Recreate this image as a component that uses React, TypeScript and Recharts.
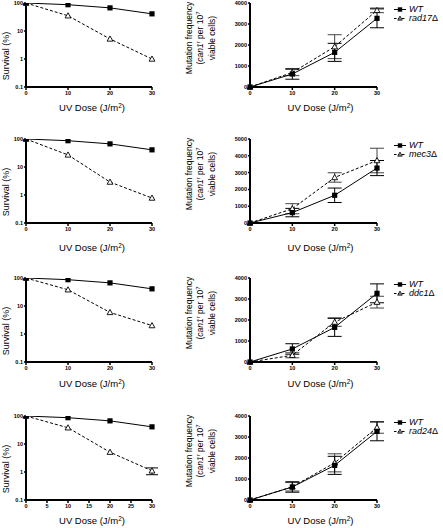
import React from "react";
import { LineChart, Line, XAxis, YAxis, ErrorBar } from "recharts";

// UV dose points (J/m2)
const doses = [0, 10, 20, 30];
const doseTicks = [0, 10, 20, 30];
const doseTicksFine = [0, 5, 10, 15, 20, 25, 30];
const survivalTicks = [0.1, 1, 10, 100];
const mutTicks4 = [0, 1000, 2000, 3000, 4000];
const mutTicks5 = [0, 1000, 2000, 3000, 4000, 5000];

// Survival (%)
const wtSurvival = [100, 87, 67, 41];
const rad17Survival = [100, 35, 5.2, 1.0];
const mec3Survival = [100, 27, 2.9, 0.78];
const ddc1Survival = [100, 38, 5.9, 2.0];
const rad24Survival = [100, 38, 5.1, 1.1];
const rad24SurvivalErr = [null, null, null, 0.3];

// Mutation frequency (can1r per 10^7 viable cells)
const wtMut = [0, 620, 1650, 3270];
const wtMutErr = [null, 250, 430, 450];
const rad17Mut = [0, 690, 1920, 3650];
const rad17MutErr = [null, 150, 570, 110];
const mec3Mut = [0, 850, 2710, 3720];
const mec3MutErr = [null, 300, 280, 730];
const ddc1Mut = [0, 320, 1900, 2850];
const ddc1MutErr = [null, 120, 200, 280];
const rad24Mut = [0, 630, 1770, 3450];
const rad24MutErr = [null, 200, 430, 270];

const FONT = '"Liberation Sans", Arial, Helvetica, sans-serif';
const MT = 6;
const PLOT_H = 84;
const XH = 34;
const CH = MT + PLOT_H + XH;

const rows = [
  { top: 3, name: "rad17", surv: rad17Survival, survErr: null as any, mut: rad17Mut, mutErr: rad17MutErr, mutTicks: mutTicks4, xTicks: doseTicks, gap: 21 },
  { top: 139, name: "mec3", surv: mec3Survival, survErr: null as any, mut: mec3Mut, mutErr: mec3MutErr, mutTicks: mutTicks5, xTicks: doseTicks, gap: 25 },
  { top: 278, name: "ddc1", surv: ddc1Survival, survErr: null as any, mut: ddc1Mut, mutErr: ddc1MutErr, mutTicks: mutTicks4, xTicks: doseTicks, gap: 22 },
  { top: 416, name: "rad24", surv: rad24Survival, survErr: rad24SurvivalErr, mut: rad24Mut, mutErr: rad24MutErr, mutTicks: mutTicks4, xTicks: doseTicksFine, gap: 21 },
];

const Square = (p: any) => {
  if (p.cx == null || p.cy == null) return <g key={p.index} />;
  return <rect key={p.index} x={p.cx - 2.6} y={p.cy - 2.6} width={5.2} height={5.2} fill="#000" />;
};
const Triangle = (p: any) => {
  if (p.cx == null || p.cy == null) return <g key={p.index} />;
  const { cx, cy } = p;
  return (
    <path key={p.index} d={`M${cx},${cy - 3} L${cx + 2.9},${cy + 2.2} L${cx - 2.9},${cy + 2.2} Z`}
      fill="#fff" stroke="#000" strokeWidth={0.9} />
  );
};

const XLabel = (props: any) => {
  const vb = props.viewBox;
  const cx = vb.x + vb.width / 2 + (props.labelShift || 0);
  const y = vb.y + (props.labelGap || 22) + 3.3;
  return (
    <text x={cx} y={y} textAnchor="middle" fontSize={9.5} fontFamily={FONT} fill="#000">
      UV Dose (J/m<tspan dy={-3.5} fontSize={6.5}>2</tspan><tspan dy={3.5}>)</tspan>
    </text>
  );
};

const SurvivalLabel = (props: any) => {
  const vb = props.viewBox;
  const cx = vb.x + 9.3;
  const cy = vb.y + 53;
  return (
    <text x={cx} y={cy} transform={`rotate(-90 ${cx} ${cy})`} textAnchor="middle"
      fontSize={9} fontFamily={FONT} fill="#000">Survival (%)</text>
  );
};

const MutLabel = (props: any) => {
  const vb = props.viewBox;
  const cy = vb.y + 35;
  const xs = [vb.x + 16.5, vb.x + 28, vb.x + 39.5];
  const common = { textAnchor: "middle" as const, fontSize: 8.5, fontFamily: FONT, fill: "#000" };
  return (
    <g>
      <text x={xs[0]} y={cy} transform={`rotate(-90 ${xs[0]} ${cy})`} {...common}>Mutation frequency</text>
      <text x={xs[1]} y={cy} transform={`rotate(-90 ${xs[1]} ${cy})`} {...common}>
        (<tspan fontStyle="italic">can1</tspan><tspan dy={-3.2} fontSize={6}>r</tspan>
        <tspan dy={3.2}> per 10</tspan><tspan dy={-3.2} fontSize={6}>7</tspan><tspan dy={3.2}> </tspan>
      </text>
      <text x={xs[2]} y={cy} transform={`rotate(-90 ${xs[2]} ${cy})`} {...common}>viable cells)</text>
    </g>
  );
};

const tickStyle = { fontSize: 5.5, fontWeight: "bold" as const, fill: "#000", fontFamily: FONT };
const axisLine = { stroke: "#000", strokeWidth: 2 };
const tickLine = { stroke: "#000", strokeWidth: 1.5 };

function SurvivalChart({ row }: { row: any }) {
  const data = doses.map((d, i) => ({
    dose: d, wt: wtSurvival[i], mt: row.surv[i], mtErr: row.survErr ? row.survErr[i] : null,
  }));
  return (
    <div style={{ position: "absolute", left: 0, top: row.top - MT }}>
      <LineChart width={170} height={CH} data={data} margin={{ top: MT, right: 18, bottom: 0, left: 0 }}>
        <XAxis dataKey="dose" type="number" domain={[0, 30]} ticks={row.xTicks} interval={0}
          axisLine={axisLine} tickLine={tickLine} tickSize={3} tickMargin={1} tick={tickStyle} height={XH}
          label={<XLabel labelShift={3} labelGap={row.gap} />} />
        <YAxis type="number" scale="log" domain={[0.1, 100]} ticks={survivalTicks} interval={0}
          allowDataOverflow width={26} axisLine={axisLine} tickLine={tickLine} tickSize={2} tickMargin={1}
          tick={tickStyle} label={<SurvivalLabel />} />
        <Line dataKey="mt" stroke="#000" strokeWidth={1} strokeDasharray="3 2" dot={Triangle}
          isAnimationActive={false}>
          {row.survErr && <ErrorBar dataKey="mtErr" width={6} stroke="#000" strokeWidth={1} direction="y" />}
        </Line>
        <Line dataKey="wt" stroke="#000" strokeWidth={1} dot={Square} isAnimationActive={false} />
      </LineChart>
    </div>
  );
}

function MutationChart({ row }: { row: any }) {
  const data = doses.map((d, i) => ({
    dose: d, wt: wtMut[i], wtErr: wtMutErr[i], mt: row.mut[i], mtErr: row.mutErr[i],
  }));
  const max = row.mutTicks[row.mutTicks.length - 1];
  return (
    <div style={{ position: "absolute", left: 175, top: row.top - MT }}>
      <LineChart width={268} height={CH} data={data} margin={{ top: MT, right: 66, bottom: 0, left: 0 }}>
        <XAxis dataKey="dose" type="number" domain={[0, 30]} ticks={doseTicks} interval={0}
          axisLine={axisLine} tickLine={tickLine} tickSize={3} tickMargin={1} tick={tickStyle} height={XH}
          label={<XLabel labelShift={7} labelGap={row.gap} />} />
        <YAxis type="number" domain={[0, max]} ticks={row.mutTicks} interval={0} width={75}
          axisLine={axisLine} tickLine={tickLine} tickSize={2} tickMargin={1} tick={tickStyle}
          label={<MutLabel />} />
        <Line dataKey="mt" stroke="#000" strokeWidth={1} strokeDasharray="3 2" dot={Triangle}
          isAnimationActive={false}>
          <ErrorBar dataKey="mtErr" width={7} stroke="#444" strokeWidth={1} direction="y" />
        </Line>
        <Line dataKey="wt" stroke="#000" strokeWidth={1} dot={Square} isAnimationActive={false}>
          <ErrorBar dataKey="wtErr" width={7} stroke="#000" strokeWidth={1} direction="y" />
        </Line>
      </LineChart>
    </div>
  );
}

function LegendBox({ row }: { row: any }) {
  const item = (dashed: boolean) => (
    <svg width={12} height={9} style={{ display: "block" }}>
      <line x1={0} y1={4.5} x2={12} y2={4.5} stroke="#000" strokeWidth={1} strokeDasharray={dashed ? "2.5 1.5" : undefined} />
      {dashed
        ? <path d="M6,2 L8.3,6.2 L3.7,6.2 Z" fill="#888" stroke="#000" strokeWidth={0.7} />
        : <rect x={3.8} y={2.3} width={4.4} height={4.4} fill="#000" />}
    </svg>
  );
  return (
    <div style={{ position: "absolute", left: 394, top: row.top + 1.5, fontFamily: FONT, fontSize: 9, lineHeight: "9px" }}>
      <div style={{ display: "flex", alignItems: "center", height: 9 }}>
        {item(false)}<i style={{ marginLeft: 3 }}>WT</i>
      </div>
      <div style={{ display: "flex", alignItems: "center", height: 9 }}>
        {item(true)}<i style={{ marginLeft: 3 }}>{row.name}</i><span>Δ</span>
      </div>
    </div>
  );
}

export default function App() {
  return (
    <div style={{ position: "absolute", left: 0, top: 0, width: 443, height: 528, background: "#fff", overflow: "hidden" }}>
      {rows.map((row) => (
        <React.Fragment key={row.name}>
          <SurvivalChart row={row} />
          <MutationChart row={row} />
          <LegendBox row={row} />
        </React.Fragment>
      ))}
    </div>
  );
}
